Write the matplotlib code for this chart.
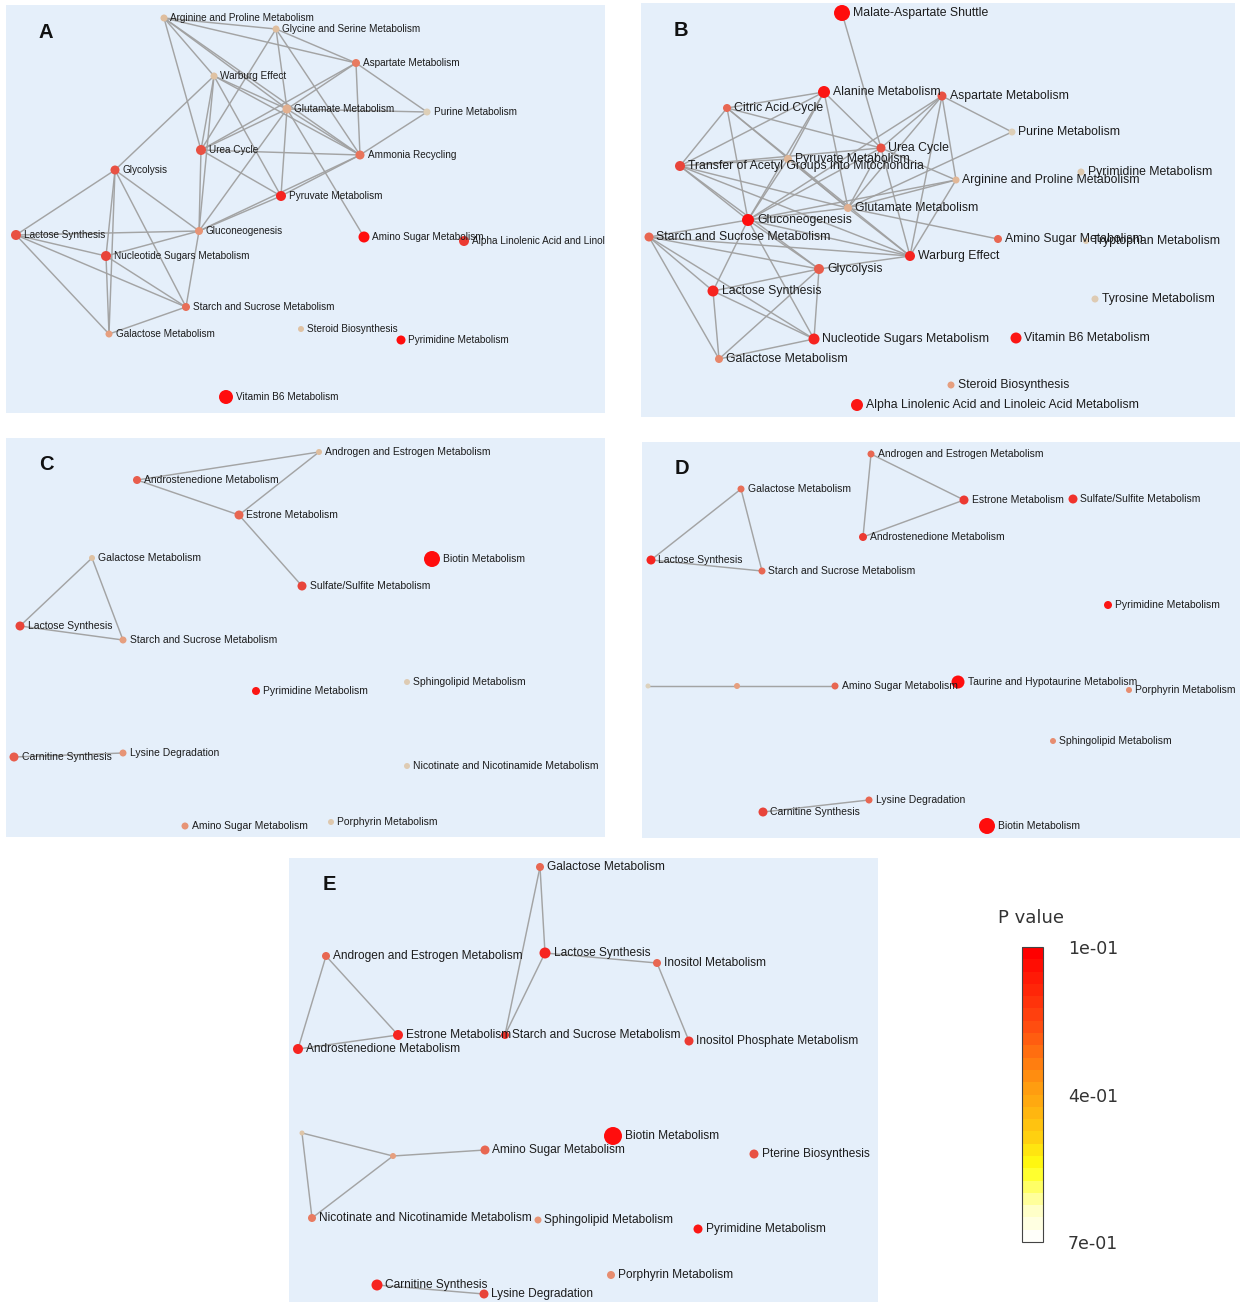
import matplotlib
matplotlib.use("Agg")
import matplotlib.pyplot as plt
from matplotlib.colors import LinearSegmentedColormap, ListedColormap, Normalize
from matplotlib.collections import LineCollection
from matplotlib.cm import ScalarMappable
import numpy as np

W, H = 1241, 1310

# ---------------- Panel A ----------------
A_ids = ["arg", "gly", "asp", "war", "glu", "pur", "urea", "amm", "glyc", "pyr",
         "lac", "gng", "amino", "alpha", "nuc", "starch", "gal", "ster", "pyrim", "vb6"]
A_labels = ["Arginine and Proline Metabolism", "Glycine and Serine Metabolism", "Aspartate Metabolism",
            "Warburg Effect", "Glutamate Metabolism", "Purine Metabolism", "Urea Cycle", "Ammonia Recycling",
            "Glycolysis", "Pyruvate Metabolism", "Lactose Synthesis", "Gluconeogenesis",
            "Amino Sugar Metabolism", "Alpha Linolenic Acid and Linoleic Acid Metabolism",
            "Nucleotide Sugars Metabolism", "Starch and Sucrose Metabolism", "Galactose Metabolism",
            "Steroid Biosynthesis", "Pyrimidine Metabolism", "Vitamin B6 Metabolism"]
A_x = [164, 276, 356, 214, 287, 427, 201, 360, 115, 281, 16, 199, 364, 464, 106, 186, 109, 301, 401, 226]
A_y = [18, 29, 63, 76, 109, 112, 150, 155, 170, 196, 235, 231, 237, 241, 256, 307, 334, 329, 340, 397]
A_p = [0.58, 0.58, 0.35, 0.60, 0.52, 0.68, 0.25, 0.33, 0.25, 0.15, 0.25, 0.42, 0.10, 0.20, 0.22, 0.32,
       0.45, 0.60, 0.10, 0.10]
A_r = [3.5, 3.5, 4, 3.5, 4.5, 3.5, 5, 4.5, 4.5, 5, 5, 4, 5.5, 5, 5, 4, 3.5, 3, 4.5, 7]
A_edges = [("arg", "gly"), ("arg", "asp"), ("arg", "war"), ("arg", "urea"), ("arg", "glu"), ("arg", "amm"),
           ("gly", "asp"), ("gly", "urea"), ("gly", "glu"), ("gly", "amm"),
           ("asp", "glu"), ("asp", "urea"), ("asp", "amm"), ("asp", "pur"),
           ("war", "glyc"), ("war", "urea"), ("war", "gng"), ("war", "glu"), ("war", "amm"), ("war", "pyr"),
           ("glu", "pur"), ("glu", "urea"), ("glu", "amm"), ("glu", "pyr"), ("glu", "amino"), ("glu", "gng"),
           ("urea", "amm"), ("urea", "pyr"), ("urea", "gng"),
           ("amm", "pur"), ("amm", "pyr"), ("amm", "gng"), ("pyr", "gng"),
           ("glyc", "lac"), ("glyc", "nuc"), ("glyc", "gng"), ("glyc", "starch"), ("glyc", "gal"),
           ("lac", "nuc"), ("lac", "starch"), ("lac", "gal"), ("lac", "gng"),
           ("nuc", "gng"), ("nuc", "starch"), ("nuc", "gal"), ("gng", "starch"), ("starch", "gal")]

# ---------------- Panel B ----------------
B_ids = ["mal", "ala", "asp", "cit", "pur", "urea", "pyr", "trans", "pyrim", "arg", "glu", "gng", "starch",
         "amino", "trp", "war", "glyc", "lac", "tyr", "nuc", "vb6", "gal", "ster", "alpha"]
B_labels = ["Malate-Aspartate Shuttle", "Alanine Metabolism", "Aspartate Metabolism", "Citric Acid Cycle",
            "Purine Metabolism", "Urea Cycle", "Pyruvate Metabolism", "Transfer of Acetyl Groups into Mitochondria",
            "Pyrimidine Metabolism", "Arginine and Proline Metabolism", "Glutamate Metabolism", "Gluconeogenesis",
            "Starch and Sucrose Metabolism", "Amino Sugar Metabolism", "Tryptophan Metabolism", "Warburg Effect",
            "Glycolysis", "Lactose Synthesis", "Tyrosine Metabolism", "Nucleotide Sugars Metabolism",
            "Vitamin B6 Metabolism", "Galactose Metabolism", "Steroid Biosynthesis",
            "Alpha Linolenic Acid and Linoleic Acid Metabolism"]
B_x = [842, 824, 942, 727, 1012, 881, 788, 680, 1081, 956, 848, 748, 649, 998, 1086, 910, 819, 713, 1095, 814,
       1016, 719, 951, 857]
B_y = [13, 92, 96, 108, 132, 148, 159, 166, 172, 180, 208, 220, 237, 239, 241, 256, 269, 291, 299, 339, 338,
       359, 385, 405]
B_p = [0.10, 0.12, 0.25, 0.30, 0.68, 0.25, 0.55, 0.22, 0.65, 0.55, 0.52, 0.10, 0.30, 0.30, 0.65, 0.15, 0.28,
       0.15, 0.66, 0.15, 0.12, 0.38, 0.45, 0.12]
B_r = [8, 6, 4.5, 4, 3.5, 4.5, 4, 5, 3.5, 3.5, 4, 6, 4.5, 4, 3, 5, 5, 5.5, 3.5, 5.5, 5.5, 4, 3.5, 6]
B_edges = [("mal", "urea"),
           ("ala", "cit"), ("ala", "trans"), ("ala", "pyr"), ("ala", "gng"), ("ala", "urea"), ("ala", "glu"),
           ("asp", "urea"), ("asp", "pur"), ("asp", "arg"), ("asp", "glu"), ("asp", "gng"), ("asp", "war"),
           ("cit", "trans"), ("cit", "gng"), ("cit", "urea"), ("cit", "glu"), ("cit", "war"),
           ("pur", "glu"),
           ("urea", "trans"), ("urea", "arg"), ("urea", "glu"), ("urea", "war"), ("urea", "gng"),
           ("pyr", "trans"), ("pyr", "gng"), ("pyr", "glu"),
           ("trans", "gng"), ("trans", "glu"), ("trans", "war"), ("trans", "glyc"),
           ("arg", "glu"), ("arg", "war"), ("arg", "gng"),
           ("glu", "gng"), ("glu", "war"), ("glu", "amino"),
           ("gng", "starch"), ("gng", "glyc"), ("gng", "nuc"), ("gng", "war"), ("gng", "lac"),
           ("starch", "glyc"), ("starch", "lac"), ("starch", "nuc"), ("starch", "gal"), ("starch", "war"),
           ("glyc", "lac"), ("glyc", "nuc"), ("glyc", "gal"), ("glyc", "war"),
           ("lac", "nuc"), ("lac", "gal"), ("nuc", "gal")]

# ---------------- Panel C ----------------
C_ids = ["andro", "androst", "estr", "gal", "biot", "sulf", "lac", "starch", "sphin", "pyrim", "carn", "lys",
         "nic", "amino", "porph"]
C_labels = ["Androgen and Estrogen Metabolism", "Androstenedione Metabolism", "Estrone Metabolism",
            "Galactose Metabolism", "Biotin Metabolism", "Sulfate/Sulfite Metabolism", "Lactose Synthesis",
            "Starch and Sucrose Metabolism", "Sphingolipid Metabolism", "Pyrimidine Metabolism",
            "Carnitine Synthesis", "Lysine Degradation", "Nicotinate and Nicotinamide Metabolism",
            "Amino Sugar Metabolism", "Porphyrin Metabolism"]
C_x = [319, 137, 239, 92, 432, 302, 20, 123, 407, 256, 14, 123, 407, 185, 331]
C_y = [452, 480, 515, 558, 559, 586, 626, 640, 682, 691, 757, 753, 766, 826, 822]
C_p = [0.58, 0.28, 0.30, 0.60, 0.10, 0.22, 0.22, 0.45, 0.66, 0.12, 0.28, 0.42, 0.66, 0.42, 0.64]
C_r = [3, 4, 4.5, 3, 8, 4.5, 4.5, 3.5, 3, 4, 4.5, 3.5, 3, 3.5, 3]
C_edges = [("andro", "androst"), ("andro", "estr"), ("androst", "estr"), ("estr", "sulf"),
           ("gal", "lac"), ("gal", "starch"), ("lac", "starch"), ("carn", "lys")]

# ---------------- Panel D ----------------
D_ids = ["andro", "gal", "estr", "sulf", "androst", "lac", "starch", "pyrim", "u1", "u2", "amino", "taur",
         "porph", "sphin", "lys", "carn", "biot"]
D_labels = ["Androgen and Estrogen Metabolism", "Galactose Metabolism", "Estrone Metabolism",
            "Sulfate/Sulfite Metabolism", "Androstenedione Metabolism", "Lactose Synthesis",
            "Starch and Sucrose Metabolism", "Pyrimidine Metabolism", "", "", "Amino Sugar Metabolism",
            "Taurine and Hypotaurine Metabolism", "Porphyrin Metabolism", "Sphingolipid Metabolism",
            "Lysine Degradation", "Carnitine Synthesis", "Biotin Metabolism"]
D_x = [871, 741, 964, 1073, 863, 651, 762, 1108, 648, 737, 835, 958, 1129, 1053, 869, 763, 987]
D_y = [454, 489, 500, 499, 537, 560, 571, 605, 686, 686, 686, 682, 690, 741, 800, 812, 826]
D_p = [0.30, 0.32, 0.20, 0.18, 0.20, 0.15, 0.30, 0.12, 0.70, 0.45, 0.30, 0.10, 0.40, 0.40, 0.30, 0.22, 0.10]
D_r = [3.5, 3.5, 4.5, 4.5, 4, 4.5, 3.5, 4, 2.5, 3, 3.5, 6.5, 3, 3, 3.5, 4.5, 8]
D_edges = [("andro", "estr"), ("andro", "androst"), ("estr", "androst"),
           ("gal", "lac"), ("gal", "starch"), ("lac", "starch"),
           ("u1", "u2"), ("u2", "amino"), ("carn", "lys")]

# ---------------- Panel E ----------------
E_ids = ["gal", "andro", "lac", "ino", "estr", "starch", "androst", "inop", "u1", "biot", "u2", "amino",
         "pter", "nic", "sphin", "pyrim", "porph", "carn", "lys"]
E_labels = ["Galactose Metabolism", "Androgen and Estrogen Metabolism", "Lactose Synthesis",
            "Inositol Metabolism", "Estrone Metabolism", "Starch and Sucrose Metabolism",
            "Androstenedione Metabolism", "Inositol Phosphate Metabolism", "", "Biotin Metabolism", "",
            "Amino Sugar Metabolism", "Pterine Biosynthesis", "Nicotinate and Nicotinamide Metabolism",
            "Sphingolipid Metabolism", "Pyrimidine Metabolism", "Porphyrin Metabolism", "Carnitine Synthesis",
            "Lysine Degradation"]
E_x = [540, 326, 545, 657, 398, 505, 298, 689, 302, 613, 393, 485, 754, 312, 538, 698, 611, 377, 484]
E_y = [867, 956, 953, 963, 1035, 1035, 1049, 1041, 1133, 1136, 1156, 1150, 1154, 1218, 1220, 1229, 1275,
       1285, 1294]
E_p = [0.30, 0.30, 0.15, 0.30, 0.15, 0.18, 0.15, 0.20, 0.62, 0.10, 0.45, 0.30, 0.25, 0.35, 0.42, 0.12, 0.40,
       0.15, 0.22]
E_r = [4, 4, 5.5, 4, 5, 4, 5, 4.5, 2.5, 9, 3, 4.5, 4.5, 4, 3.5, 4.5, 4, 5.5, 4.5]
E_edges = [("gal", "lac"), ("gal", "starch"), ("lac", "starch"), ("lac", "ino"), ("ino", "inop"),
           ("andro", "estr"), ("andro", "androst"), ("estr", "androst"),
           ("u1", "u2"), ("u1", "nic"), ("u2", "nic"), ("u2", "amino"), ("carn", "lys")]

# colour bar
cbar_ticks = [0.1, 0.4, 0.7]
cbar_ticklabels = ["1e-01", "4e-01", "7e-01"]

# ---------------- styling ----------------
BG = "#e5effa"
EDGE = "#a0a0a0"
TXT = "#1c1c1c"
FONT = ["Liberation Sans", "DejaVu Sans"]

node_cmap = LinearSegmentedColormap.from_list(
    "nodes", [(0.0, "#ff0d0d"), (0.2, "#e8443a"), (0.4, "#e8785e"), (0.6, "#e6a282"),
              (0.8, "#dfbe9e"), (1.0, "#ddd2bd")])
node_norm = Normalize(0.1, 0.7)

fig = plt.figure(figsize=(W / 100, H / 100), dpi=100)


def draw_panel(box, letter, ids, labels, xs, ys, ps, rs, edges, fs):
    x0, y0, x1, y1 = box
    ax = fig.add_axes([x0 / W, 1 - y1 / H, (x1 - x0) / W, (y1 - y0) / H])
    ax.set_xlim(x0, x1)
    ax.set_ylim(y1, y0)
    ax.set_facecolor(BG)
    ax.set_xticks([])
    ax.set_yticks([])
    for s in ax.spines.values():
        s.set_visible(False)
    pos = {k: (x, y) for k, x, y in zip(ids, xs, ys)}
    segs = [[pos[a], pos[b]] for a, b in edges]
    ax.add_collection(LineCollection(segs, colors=EDGE, linewidths=1.05, alpha=0.95, zorder=1))
    colors = node_cmap(node_norm(np.array(ps)))
    sizes = [(2 * r * 0.72) ** 2 for r in rs]
    ax.scatter(xs, ys, s=sizes, c=colors, edgecolors="none", zorder=2)
    for lab, x, y, r in zip(labels, xs, ys, rs):
        if lab:
            ax.text(x + r + 3, y, lab, fontsize=fs, va="center", ha="left", color=TXT,
                    family=FONT, clip_on=True, zorder=3)
    ax.text(x0 + 40, y0 + 27, letter, fontsize=14.5, fontweight="bold", ha="center", va="center",
            color="#111111", family=FONT, zorder=4)
    return ax


draw_panel((6, 5, 605, 413), "A", A_ids, A_labels, A_x, A_y, A_p, A_r, A_edges, 7.2)
draw_panel((641, 3, 1235, 417), "B", B_ids, B_labels, B_x, B_y, B_p, B_r, B_edges, 8.8)
draw_panel((6, 438, 605, 837), "C", C_ids, C_labels, C_x, C_y, C_p, C_r, C_edges, 7.5)
draw_panel((642, 442, 1240, 838), "D", D_ids, D_labels, D_x, D_y, D_p, D_r, D_edges, 7.5)
draw_panel((289, 858, 878, 1302), "E", E_ids, E_labels, E_x, E_y, E_p, E_r, E_edges, 8.6)

# ---------------- colour bar ----------------
cb_stops = [(0.0, "#ff0000"), (0.25, "#ff4a10"), (0.47, "#ff9a10"), (0.65, "#ffd010"),
            (0.76, "#ffff10"), (0.9, "#ffffc0"), (1.0, "#fffffa")]
cbar_cmap = ListedColormap(LinearSegmentedColormap.from_list("pv", cb_stops)(np.linspace(0, 1, 24)))
cax = fig.add_axes([1022 / W, 1 - 1242 / H, 21 / W, 295 / H])
sm = ScalarMappable(norm=Normalize(0.1, 0.7), cmap=cbar_cmap)
cb = fig.colorbar(sm, cax=cax)
cax.invert_yaxis()
cb.set_ticks(cbar_ticks)
cb.set_ticklabels(cbar_ticklabels)
cax.tick_params(length=0, pad=18, labelsize=12.5, labelcolor="#333333")
cb.outline.set_edgecolor("#444444")
cb.outline.set_linewidth(0.8)
fig.text(1031 / W, 1 - 918 / H, "P value", ha="center", va="center", fontsize=13, color="#333333",
         family=["DejaVu Sans"])

fig.savefig("out.png", dpi=100)
